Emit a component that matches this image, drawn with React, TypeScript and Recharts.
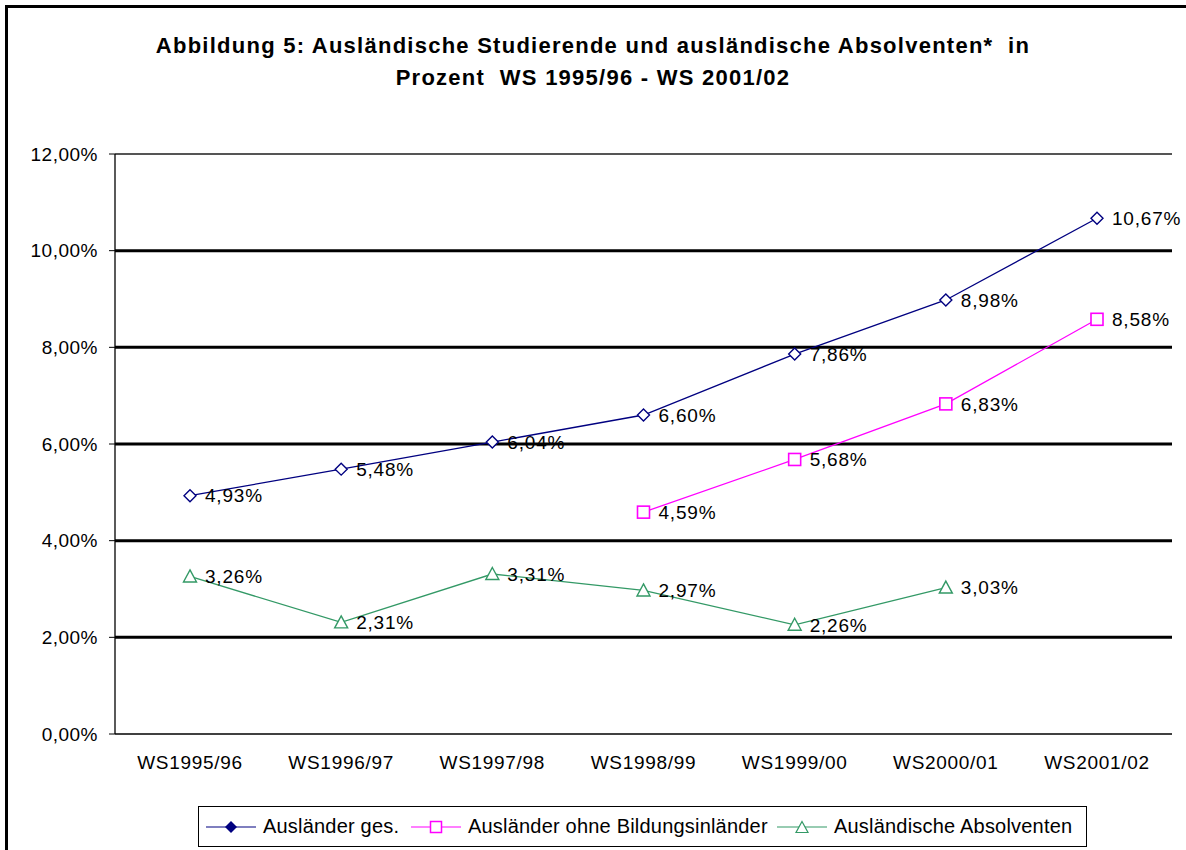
import React from "react";
import {
  LineChart,
  Line,
  XAxis,
  YAxis,
  ReferenceLine,
  LabelList,
  Legend,
} from "recharts";

const semesters = [
  "WS1995/96",
  "WS1996/97",
  "WS1997/98",
  "WS1998/99",
  "WS1999/00",
  "WS2000/01",
  "WS2001/02",
];
const auslaenderGes = [4.93, 5.48, 6.04, 6.6, 7.86, 8.98, 10.67];
const ohneBildungsinlaender = [null, null, null, 4.59, 5.68, 6.83, 8.58];
const absolventen = [3.26, 2.31, 3.31, 2.97, 2.26, 3.03, null];
const yTicks = [0, 2, 4, 6, 8, 10, 12];
const gridValues = [2, 4, 6, 8, 10];
const boundaryTicks = [0, 1, 2, 3, 4, 5, 6, 7];

const data = semesters.map((name, i) => ({
  name,
  ges: auslaenderGes[i],
  ohne: ohneBildungsinlaender[i],
  abs: absolventen[i],
}));

const FONT = "'Liberation Sans', Arial, sans-serif";
const NAVY = "#000080";
const PINK = "#FF00FF";
const GREEN = "#339966";

const pct = (v: any) =>
  v == null ? "" : Number(v).toFixed(2).replace(".", ",") + "%";

const Diamond = (props: any) => {
  const { cx, cy, payload } = props;
  if (cx == null || cy == null || payload?.ges == null) return null;
  const r = 6;
  return (
    <path
      d={`M${cx},${cy - r}L${cx + r},${cy}L${cx},${cy + r}L${cx - r},${cy}Z`}
      fill="#fff"
      stroke={NAVY}
      strokeWidth={1.4}
    />
  );
};

const Square = (props: any) => {
  const { cx, cy, payload } = props;
  if (cx == null || cy == null || payload?.ohne == null) return null;
  return (
    <rect x={cx - 6} y={cy - 6} width={12} height={12} fill="#fff" stroke={PINK} strokeWidth={1.6} />
  );
};

const Triangle = (props: any) => {
  const { cx, cy, payload } = props;
  if (cx == null || cy == null || payload?.abs == null) return null;
  return (
    <path
      d={`M${cx},${cy - 6.5}L${cx + 6.5},${cy + 5.5}L${cx - 6.5},${cy + 5.5}Z`}
      fill="#fff"
      stroke={GREEN}
      strokeWidth={1.4}
    />
  );
};

const legendItems = [
  { label: "Ausländer ges.", color: NAVY, shape: "diamond", left: 7 },
  { label: "Ausländer ohne Bildungsinländer", color: PINK, shape: "square", left: 212 },
  { label: "Ausländische Absolventen", color: GREEN, shape: "triangle", left: 578 },
];

const LegendBox = () => (
  <div
    style={{
      position: "relative",
      width: 889,
      height: 41,
      boxSizing: "border-box",
      border: "1px solid #000",
      fontFamily: FONT,
      fontSize: 20,
      letterSpacing: 0.2,
      color: "#000",
      background: "#fff",
    }}
  >
    {legendItems.map((it) => (
      <div
        key={it.label}
        style={{
          position: "absolute",
          left: it.left,
          top: 0,
          height: 39,
          display: "flex",
          alignItems: "center",
          whiteSpace: "nowrap",
        }}
      >
        <svg width={50} height={14} style={{ marginRight: 7 }}>
          <line x1={0} y1={7} x2={50} y2={7} stroke={it.color} strokeWidth={1.2} />
          {it.shape === "diamond" && <path d="M25,1L31,7L25,13L19,7Z" fill={it.color} />}
          {it.shape === "square" && (
            <rect x={19.5} y={1.5} width={11} height={11} fill="#fff" stroke={it.color} strokeWidth={1.5} />
          )}
          {it.shape === "triangle" && (
            <path d="M25,1.5L31,12.5L19,12.5Z" fill="#fff" stroke={it.color} strokeWidth={1.2} />
          )}
        </svg>
        <span>{it.label}</span>
      </div>
    ))}
  </div>
);

const labelStyle = { fontFamily: FONT, fontSize: 19, fill: "#000", letterSpacing: 0.8 };

export default function App() {
  return (
    <div
      style={{
        position: "absolute",
        left: 0,
        top: 0,
        width: 1186,
        height: 850,
        overflow: "hidden",
        background: "#fff",
      }}
    >
      <div
        style={{
          position: "absolute",
          left: 5,
          top: 5,
          width: 1300,
          height: 1000,
          border: "3px solid #000",
        }}
      />
      <div
        style={{
          position: "absolute",
          left: 0,
          top: 30,
          width: 1186,
          textAlign: "center",
          fontFamily: FONT,
          fontWeight: "bold",
          fontSize: 22,
          letterSpacing: 1.25,
          lineHeight: "32px",
          whiteSpace: "pre",
        }}
      >
        {"Abbildung 5: Ausländische Studierende und ausländische Absolventen*  in\nProzent  WS 1995/96 - WS 2001/02"}
      </div>
      <div style={{ position: "absolute", left: 0, top: 0 }}>
        <LineChart
          width={1186}
          height={850}
          data={data}
          margin={{ top: 154, right: 14, bottom: 76, left: 0 }}
        >
          <XAxis
            xAxisId="b"
            type="number"
            domain={[0, 7]}
            ticks={boundaryTicks}
            tick={false}
            tickSize={6}
            tickLine={{ stroke: "#000" }}
            axisLine={false}
            height={0}
          />
          <XAxis
            xAxisId="cat"
            dataKey="name"
            padding={{ left: 75, right: 75 }}
            tickLine={false}
            tickSize={0}
            tickMargin={22}
            axisLine={{ stroke: "#000", strokeWidth: 1.3 }}
            tick={{ fontFamily: FONT, fontSize: 19, fill: "#000", letterSpacing: 0.7 }}
            height={40}
            interval={0}
          />
          <YAxis
            domain={[0, 12]}
            ticks={yTicks}
            tickFormatter={pct}
            width={115}
            tickSize={6}
            tickMargin={11}
            tickLine={{ stroke: "#000" }}
            axisLine={{ stroke: "#000", strokeWidth: 1.3 }}
            tick={{ fontFamily: FONT, fontSize: 19, fill: "#000", letterSpacing: 0.5 }}
            interval={0}
          />
          <YAxis
            yAxisId="r"
            orientation="right"
            width={0}
            tick={false}
            tickLine={false}
            axisLine={{ stroke: "#808080" }}
          />
          {gridValues.map((v) => (
            <ReferenceLine key={v} y={v} xAxisId="cat" stroke="#000" strokeWidth={3} />
          ))}
          <ReferenceLine y={12} xAxisId="cat" stroke="#555" strokeWidth={2} />
          <Line
            xAxisId="cat"
            dataKey="ges"
            stroke={NAVY}
            strokeWidth={1.3}
            dot={<Diamond />}
            isAnimationActive={false}
          >
            <LabelList dataKey="ges" position="right" offset={15} formatter={pct} style={labelStyle} />
          </Line>
          <Line
            xAxisId="cat"
            dataKey="ohne"
            stroke={PINK}
            strokeWidth={1.3}
            dot={<Square />}
            isAnimationActive={false}
          >
            <LabelList dataKey="ohne" position="right" offset={15} formatter={pct} style={labelStyle} />
          </Line>
          <Line
            xAxisId="cat"
            dataKey="abs"
            stroke={GREEN}
            strokeWidth={1.3}
            dot={<Triangle />}
            isAnimationActive={false}
          >
            <LabelList dataKey="abs" position="right" offset={15} formatter={pct} style={labelStyle} />
          </Line>
          <Legend
            layout="horizontal"
            verticalAlign="middle"
            align="center"
            content={() => <LegendBox />}
            wrapperStyle={{ left: 198, top: 806, width: 889, height: 41, right: "auto", bottom: "auto" }}
          />
        </LineChart>
      </div>
    </div>
  );
}
